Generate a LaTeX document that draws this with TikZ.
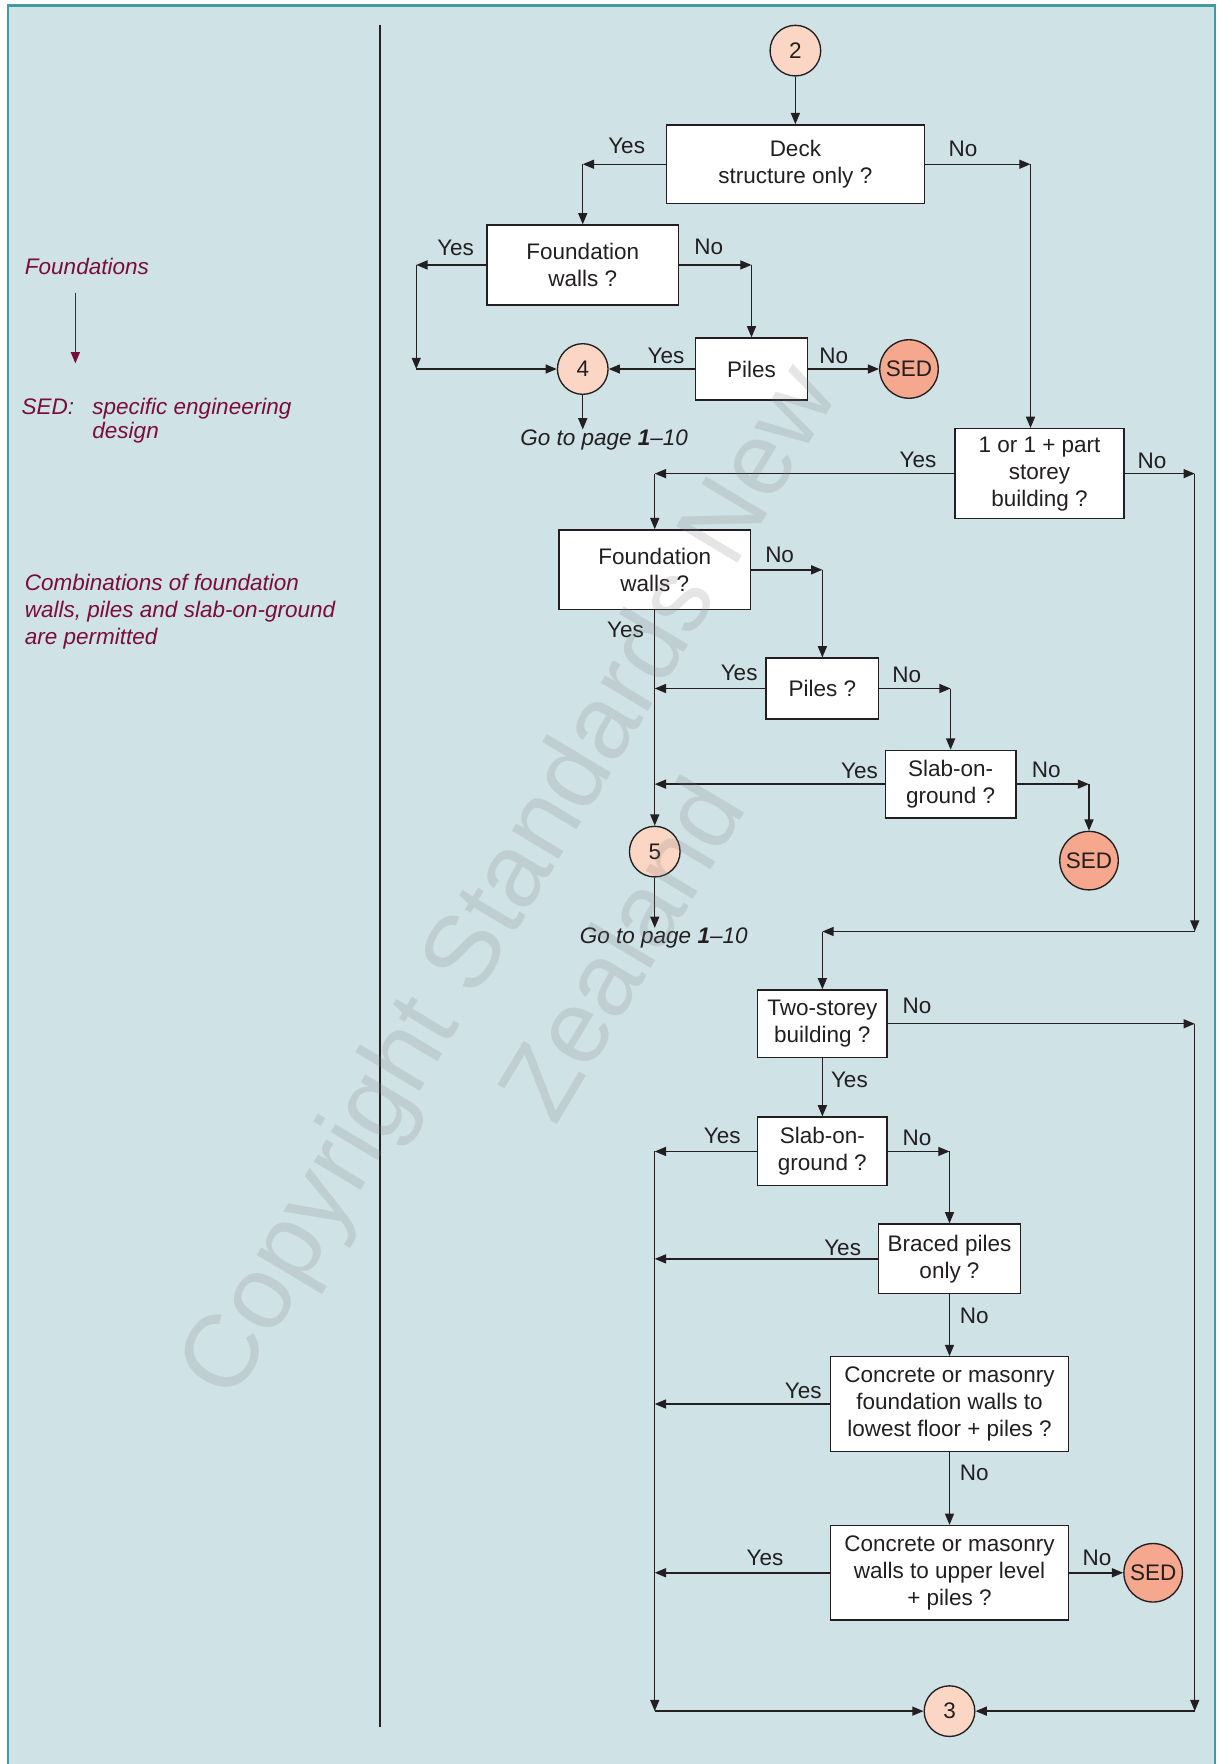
\documentclass[tikz,border=0pt]{standalone}
\usepackage{fontspec}
\setmainfont{Liberation Sans}
\usetikzlibrary{arrows.meta}

\definecolor{panel}{RGB}{207,226,230}
\definecolor{paneledge}{RGB}{64,156,163}
\definecolor{ink}{RGB}{35,31,32}
\definecolor{maroon}{RGB}{122,12,62}
\definecolor{peach}{RGB}{251,214,196}
\definecolor{salmon}{RGB}{245,168,142}

\newcommand\fsz{\fontsize{20}{24}\selectfont}

\tikzset{
  qbox/.style={draw=ink, fill=white, line width=1.2pt, align=center,
    inner sep=0pt, font=\fsz, text=ink},
  conn/.style={circle, draw=ink, line width=1.2pt, fill=peach, inner sep=0pt,
    minimum size=45pt, font=\fsz, text=ink},
  sedc/.style={circle, draw=ink, line width=1.2pt, fill=salmon, inner sep=0pt,
    minimum size=52pt, font=\fsz, text=ink},
  arr/.style={draw=ink, line width=1.3pt, -{Triangle[length=10pt,width=8pt]}},
  lbl/.style={font=\fsz, text=ink, inner sep=0pt},
  note/.style={font=\fsz\itshape, text=maroon, inner sep=0pt, align=left},
  gonote/.style={font=\fsz\itshape, text=ink, inner sep=0pt},
}

\begin{document}
\begin{tikzpicture}[x=1pt, y=-1pt]
\useasboundingbox (0,0) rectangle (1084,1568);

% page and panel
\fill[white] (0,0) rectangle (1084,1568);
\fill[panel] (7,5) rectangle (1080,1580);
\draw[paneledge, line width=2.2pt] (7,1580) -- (7,5) -- (1080,5) -- (1080,1580);

% divider between notes and chart
\draw[ink, line width=1.5pt] (338,22) -- (338,1535);

% notes column
\node[note, anchor=west] (nfound) at (22,237) {Foundations};
\coordinate (legA) at (67,260);
\coordinate (legB) at (67,323);
\draw[maroon, line width=1.3pt, -{Triangle[length=10pt,width=8pt]}] (legA) -- (legB);
\node[note, anchor=west] (nsed) at (19,362) {SED:};
\node[note, anchor=north west] (nsedtxt) at (82,354) {specific engineering\\[-3pt]design};
\node[note, anchor=north west] (ncomb) at (22,510)
  {Combinations of foundation\\walls, piles and slab-on-ground\\are permitted};

% ---------- upper branch ----------
\node[conn] (c2) at (707,45) {2};
\node[qbox, minimum width=229pt, minimum height=70pt] (deck) at (707,146) {Deck\\structure only ?};
\node[qbox, minimum width=170pt, minimum height=71pt] (fw1) at (518,235.5) {Foundation\\walls ?};
\node[qbox, minimum width=100pt, minimum height=55pt] (piles1) at (668,328) {Piles};
\node[sedc] (sed1) at (808,328) {SED};
\node[conn] (c4) at (518,328) {4};
\node[gonote] (goto4) at (537,391) {Go to page \textbf{1}--10};

\draw[arr] (c2.south) -- (deck.north);

\coordinate (dy) at (518,146);
\draw[arr] (deck.west) -- (dy);
\draw[arr] (dy) -- (fw1.north);
\node[lbl] (l1) at (557,130) {Yes};

\coordinate (dn) at (916,146);
\draw[arr] (deck.east) -- (dn);

\coordinate (fy) at (370,235.5);
\coordinate (fy2) at (370,328);
\draw[arr] (fw1.west) -- (fy);
\draw[arr] (fy) -- (fy2);
\draw[arr] (fy2) -- (c4.west);
\node[lbl] (l2) at (405,220) {Yes};

\coordinate (fn) at (668,235.5);
\draw[arr] (fw1.east) -- (fn);
\draw[arr] (fn) -- (piles1.north);
\node[lbl] (l3) at (630,219) {No};

\draw[arr] (piles1.west) -- (c4.east);
\node[lbl] (l4) at (592,316) {Yes};
\draw[arr] (piles1.east) -- (sed1.west);
\node[lbl] (l5) at (741,316) {No};

\draw[arr] (c4.south) -- (c4.south |- goto4.north);

% ---------- single storey branch ----------
\node[qbox, minimum width=150pt, minimum height=80pt] (part) at (924,421) {1 or 1 + part\\storey\\building ?};
\draw[arr] (dn) -- (dn |- part.north);
\node[lbl] (l6) at (856,132) {No};

\node[qbox, minimum width=170pt, minimum height=71pt] (fw2) at (582,506.5) {Foundation\\walls ?};
\node[qbox, minimum width=100pt, minimum height=54pt] (piles2) at (731,612) {Piles ?};
\node[qbox, minimum width=116pt, minimum height=60pt] (slab1) at (845,697) {Slab-on-\\ground ?};
\node[sedc] (sed2) at (968,765) {SED};
\node[conn] (c5) at (582,757) {5};
\node[gonote] (goto5) at (590,834) {Go to page \textbf{1}--10};

\coordinate (py) at (582,421);
\draw[arr] (part.west) -- (py);
\draw[arr] (py) -- (fw2.north);
\node[lbl] (l7) at (816,409) {Yes};

\coordinate (pn) at (1062,421);
\coordinate (pn2) at (1062,828);
\coordinate (pn3) at (731,828);
\draw[arr] (part.east) -- (pn);
\draw[arr] (pn) -- (pn2);
\draw[arr] (pn2) -- (pn3);
\node[lbl] (l8) at (1024,410) {No};

\coordinate (f2n) at (731,506.5);
\draw[arr] (fw2.east) -- (f2n);
\draw[arr] (f2n) -- (piles2.north);
\node[lbl] (l9) at (693,493) {No};

\draw[arr] (fw2.south) -- (c5.north);
\node[lbl] (l10) at (556,560) {Yes};

\coordinate (j1) at (582,612);
\draw[arr] (piles2.west) -- (j1);
\node[lbl] (l11) at (657,598) {Yes};

\coordinate (p2n) at (845,612);
\draw[arr] (piles2.east) -- (p2n);
\draw[arr] (p2n) -- (slab1.north);
\node[lbl] (l12) at (806,600) {No};

\coordinate (j2) at (582,697);
\draw[arr] (slab1.west) -- (j2);
\node[lbl] (l13) at (764,685) {Yes};

\coordinate (s1n) at (968,697);
\draw[arr] (slab1.east) -- (s1n);
\draw[arr] (s1n) -- (sed2.north);
\node[lbl] (l14) at (930,684) {No};

\draw[arr] (c5.south) -- (c5.south |- goto5.north);

% ---------- two storey branch ----------
\node[qbox, minimum width=115pt, minimum height=60pt] (two) at (731,910) {Two-storey\\building ?};
\node[qbox, minimum width=115pt, minimum height=61pt] (slab2) at (731,1023.5) {Slab-on-\\ground ?};
\node[qbox, minimum width=126pt, minimum height=62pt] (braced) at (844,1119) {Braced piles\\only ?};
\node[qbox, minimum width=211pt, minimum height=84pt] (conc1) at (844,1248) {Concrete or masonry\\foundation walls to\\lowest floor + piles ?};
\node[qbox, minimum width=211pt, minimum height=84pt] (conc2) at (844,1398) {Concrete or masonry\\walls to upper level\\+ piles ?};
\node[sedc] (sed3) at (1025,1398) {SED};
\node[conn] (c3) at (844,1521) {3};

\draw[arr] (pn3) -- (two.north);

\coordinate (tn) at (1062,910);
\coordinate (tn2) at (1062,1521);
\draw[arr] (two.east) -- (tn);
\draw[arr] (tn) -- (tn2);
\draw[arr] (tn2) -- (c3.east);
\node[lbl] (l15) at (815,894) {No};

\draw[arr] (two.south) -- (slab2.north);
\node[lbl] (l16) at (755,960) {Yes};

\coordinate (s2y) at (582,1023.5);
\coordinate (s2y2) at (582,1521);
\draw[arr] (slab2.west) -- (s2y);
\draw[arr] (s2y) -- (s2y2);
\draw[arr] (s2y2) -- (c3.west);
\node[lbl] (l17) at (642,1010) {Yes};

\coordinate (s2n) at (844,1023.5);
\draw[arr] (slab2.east) -- (s2n);
\draw[arr] (s2n) -- (braced.north);
\node[lbl] (l18) at (815,1011) {No};

\coordinate (j3) at (582,1119);
\draw[arr] (braced.west) -- (j3);
\node[lbl] (l19) at (749,1109) {Yes};

\draw[arr] (braced.south) -- (conc1.north);
\node[lbl] (l20) at (866,1170) {No};

\coordinate (j4) at (582,1248);
\draw[arr] (conc1.west) -- (j4);
\node[lbl] (l21) at (714,1236) {Yes};

\draw[arr] (conc1.south) -- (conc2.north);
\node[lbl] (l22) at (866,1309) {No};

\coordinate (j5) at (582,1398);
\draw[arr] (conc2.west) -- (j5);
\node[lbl] (l23) at (680,1385) {Yes};

\draw[arr] (conc2.east) -- (sed3.west);
\node[lbl] (l24) at (975,1385) {No};

% watermark laid over the chart
\node[rotate=59, font=\fontsize{92}{120}\selectfont, text=black!50, opacity=0.2,
  align=center, inner sep=0pt] (wm) at (500,812) {Copyright Standards New\\Zealand};
\end{tikzpicture}
\end{document}
